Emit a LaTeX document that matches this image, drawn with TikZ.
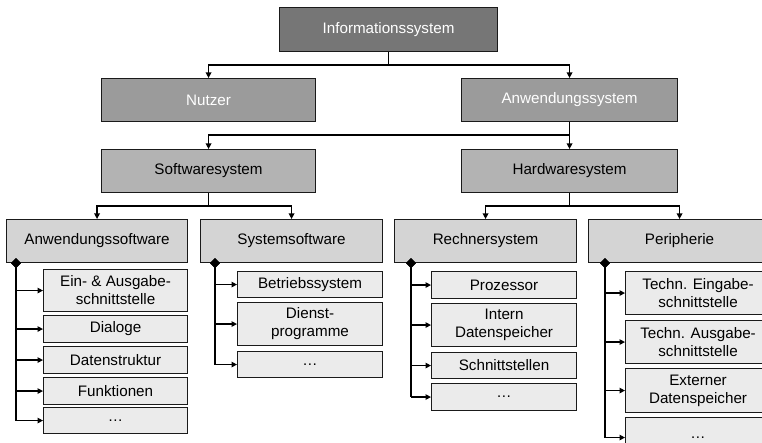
\documentclass[tikz,border=0pt]{standalone}
\usepackage{fontspec}
\setmainfont{Liberation Sans}
\usetikzlibrary{arrows.meta,shapes.geometric}
\definecolor{fillA}{HTML}{767676}
\definecolor{fillB}{HTML}{9B9B9B}
\definecolor{fillC}{HTML}{B3B3B3}
\definecolor{fillD}{HTML}{D4D4D4}
\definecolor{fillE}{HTML}{EBEBEB}
\definecolor{edge}{HTML}{1A1A1A}
\begin{document}
\begin{tikzpicture}[x=1pt,y=-1pt,
  font=\fontsize{15.2}{18}\selectfont,
  box/.style={draw=edge, line width=1.1pt, anchor=north west, inner sep=0pt, align=center},
  topbox/.style={box, fill=fillA, text=white},
  midbox/.style={box, fill=fillB, text=white},
  subbox/.style={box, fill=fillC},
  groupbox/.style={box, fill=fillD},
  itembox/.style={box, fill=fillE},
  arr/.style={draw=black, line width=1.3pt, -{Triangle[length=5.5pt,width=5.5pt]}},
  trunk/.style={draw=black, line width=2.2pt},
  branchtip/.style={diamond, fill=black, inner sep=0pt, minimum width=10pt, minimum height=10pt}]
\clip (0,0) rectangle (762,443);

% upper levels
\node[topbox, minimum width=218, minimum height=44] (info) at (279,7) {Informationssystem};
\node[midbox, minimum width=214, minimum height=43] (nutzer) at (101,78) {Nutzer};
\node[midbox, minimum width=216, minimum height=43] (anw) at (461,78) {Anwendungssystem};
\node[subbox, minimum width=214, minimum height=43] (soft) at (101,149) {Softwaresystem};
\node[subbox, minimum width=216, minimum height=43] (hard) at (461,149) {Hardwaresystem};

\draw[arr] (info.south) -- ++(0,13) -| (nutzer.north);
\draw[arr] (info.south) -- ++(0,13) -| (anw.north);
\draw[arr] (anw.south) -- ++(0,13) -| (soft.north);
\draw[arr] (anw.south) -- ++(0,13) -| (hard.north);

% third level
\node[groupbox, minimum width=181, minimum height=43] (ga) at (6,219) {Anwendungssoftware};
\node[groupbox, minimum width=182, minimum height=43] (gs) at (200,219) {Systemsoftware};
\node[groupbox, minimum width=182, minimum height=43] (gr) at (394,219) {Rechnersystem};
\node[groupbox, minimum width=182, minimum height=43] (gp) at (588,219) {Peripherie};

\draw[arr] (soft.south) -- ++(0,13) -| (ga.north);
\draw[arr] (soft.south) -- ++(0,13) -| (gs.north);
\draw[arr] (hard.south) -- ++(0,13) -| (gr.north);
\draw[arr] (hard.south) -- ++(0,13) -| (gp.north);

% Anwendungssoftware
\node[itembox, minimum width=144, minimum height=42] (a1) at (43,269) {Ein- \& Ausgabe-\\schnittstelle};
\node[itembox, minimum width=144, minimum height=27] (a2) at (43,315) {Dialoge};
\node[itembox, minimum width=144, minimum height=27] (a3) at (43,346) {Datenstruktur};
\node[itembox, minimum width=144, minimum height=27] (a4) at (43,377) {Funktionen};
\node[itembox, minimum width=144, minimum height=26] (a5) at (43,407) {…};

% Systemsoftware
\node[itembox, minimum width=145, minimum height=26] (s1) at (237,271) {Betriebssystem};
\node[itembox, minimum width=145, minimum height=43] (s2) at (237,302) {Dienst-\\programme};
\node[itembox, minimum width=145, minimum height=26] (s3) at (237,351) {…};

% Rechnersystem
\node[itembox, minimum width=145, minimum height=27] (r1) at (431,271) {Prozessor};
\node[itembox, minimum width=145, minimum height=43] (r2) at (431,303) {Intern\\Datenspeicher};
\node[itembox, minimum width=145, minimum height=26] (r3) at (431,352) {Schnittstellen};
\node[itembox, minimum width=145, minimum height=27] (r4) at (431,383) {…};

% Peripherie
\node[itembox, minimum width=145, minimum height=43] (p1) at (625,271) {Techn. Eingabe-\\schnittstelle};
\node[itembox, minimum width=145, minimum height=43] (p2) at (625,320) {Techn. Ausgabe-\\schnittstelle};
\node[itembox, minimum width=145, minimum height=44] (p3) at (625,368) {Externer\\Datenspeicher};
\node[itembox, minimum width=145, minimum height=40] (p4) at (625,417) {…};

% branch lines from each group
\node[branchtip] (da) at ([xshift=10]ga.south west) {};
\node[branchtip] (ds) at ([xshift=15]gs.south west) {};
\node[branchtip] (dr) at ([xshift=17]gr.south west) {};
\node[branchtip] (dp) at ([xshift=17]gp.south west) {};

\draw[trunk] (da.center) -- (da |- a5.west);
\foreach \c in {a1,a2,a3,a4,a5} \draw[arr] (da |- \c.west) -- (\c.west);
\draw[trunk] (ds.center) -- (ds |- s3.west);
\foreach \c in {s1,s2,s3} \draw[arr] (ds |- \c.west) -- (\c.west);
\draw[trunk] (dr.center) -- (dr |- r4.west);
\foreach \c in {r1,r2,r3,r4} \draw[arr] (dr |- \c.west) -- (\c.west);
\draw[trunk] (dp.center) -- (dp |- p4.west);
\foreach \c in {p1,p2,p3,p4} \draw[arr] (dp |- \c.west) -- (\c.west);

\node[branchtip] at (da) {};
\node[branchtip] at (ds) {};
\node[branchtip] at (dr) {};
\node[branchtip] at (dp) {};
\end{tikzpicture}
\end{document}
